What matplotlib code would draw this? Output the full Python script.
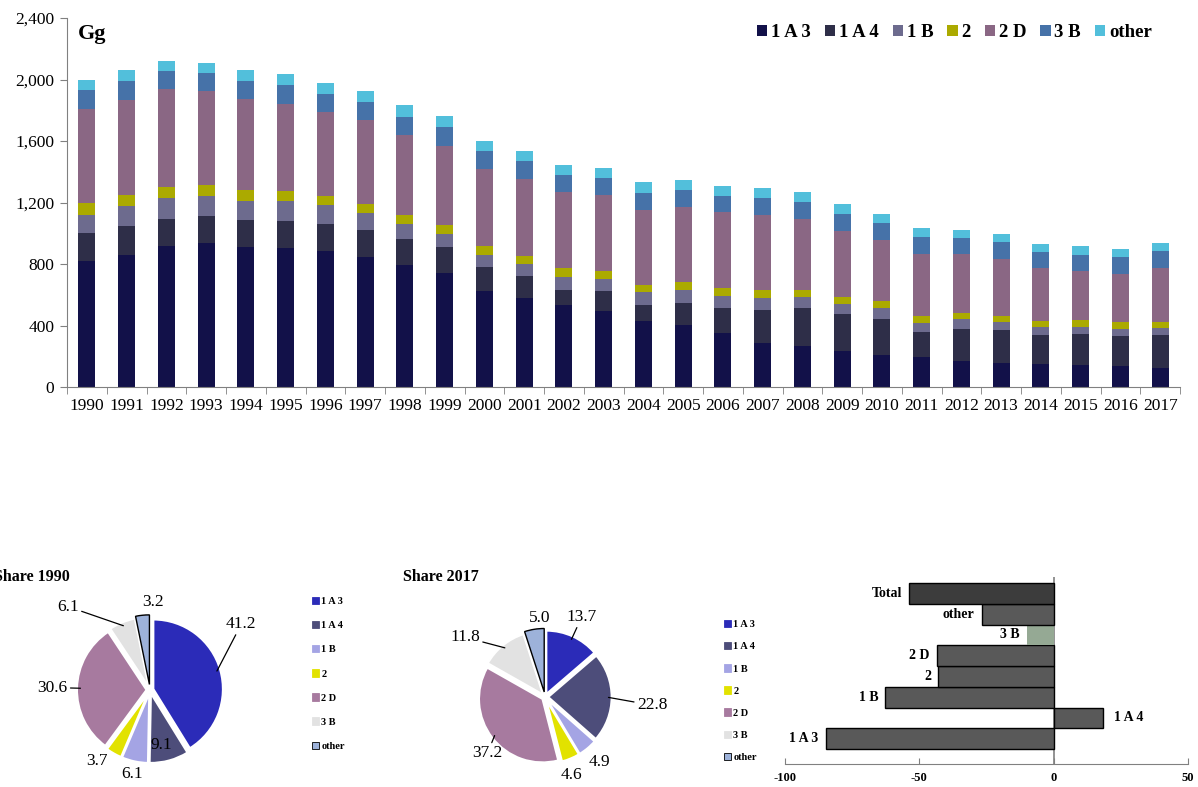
import numpy as np
import matplotlib
matplotlib.use("Agg")
import matplotlib.pyplot as plt
from matplotlib.patches import Patch
from matplotlib.ticker import FuncFormatter, FixedLocator

plt.rcParams["font.family"] = ["Liberation Serif", "DejaVu Serif"]
plt.rcParams["axes.unicode_minus"] = False

# ---------------- data ----------------
years = [str(y) for y in range(1990, 2018)]
sectors = ["1 A 3", "1 A 4", "1 B", "2", "2 D", "3 B", "other"]

s_1a3 = [819, 858, 917, 936, 910, 904, 884, 845, 793, 741, 623, 578, 532, 493,
         428, 402, 350, 285, 265, 232, 206, 193, 167, 154, 148, 141, 135, 122]
s_1a4 = [182, 189, 176, 176, 176, 176, 176, 176, 169, 169, 157, 143, 98, 130,
         104, 143, 163, 215, 248, 242, 235, 163, 209, 215, 189, 202, 195, 215]
s_1b = [118, 130, 136, 130, 124, 130, 124, 111, 98, 85, 78, 78, 85, 79,
        85, 85, 78, 78, 71, 65, 72, 59, 65, 52, 52, 46, 46, 45]
s_2 = [78, 72, 72, 72, 71, 65, 58, 58, 59, 58, 59, 52, 58, 52,
       45, 52, 52, 52, 46, 45, 45, 45, 39, 39, 39, 45, 45, 39]
s_2d = [612, 619, 634, 613, 593, 567, 548, 548, 521, 517, 501, 502, 495, 495,
        489, 489, 495, 489, 463, 430, 398, 404, 384, 372, 345, 320, 313, 352]
s_3b = [124, 124, 122, 117, 118, 124, 117, 117, 117, 122, 118, 117, 111, 111,
        111, 110, 104, 110, 110, 111, 110, 111, 105, 111, 104, 104, 111, 111]
s_other = [65, 71, 65, 65, 71, 71, 72, 72, 78, 72, 65, 66, 65, 65,
           72, 66, 66, 66, 65, 65, 59, 59, 52, 52, 53, 59, 52, 52]

share_1990 = [41.2, 9.1, 6.1, 3.7, 30.6, 6.1, 3.2]
share_2017 = [13.7, 22.8, 4.9, 4.6, 37.2, 11.8, 5.0]

trend_labels = ["1 A 3", "1 A 4", "1 B", "2", "2 D", "3 B", "other", "Total"]
trend_values = [-84.9, 18.2, -62.7, -42.9, -43.6, -10.0, -26.8, -53.8]

# ---------------- styles ----------------
bar_colors = ["#121149", "#2e2e48", "#6d6b8e", "#abaa00", "#8a6784", "#4672a8", "#52bfdb"]
pie_colors = ["#2b2bb8", "#4d4d7a", "#a4a4e4", "#e2e200", "#a77a9f", "#e2e2e2", "#9db2da"]

fig = plt.figure(figsize=(11.98, 7.87), dpi=100)

# ---------------- stacked bars ----------------
ax = fig.add_axes([67 / 1198, 1 - 387 / 787, 1113 / 1198, 369 / 787])
x = np.arange(len(years))
series = [s_1a3, s_1a4, s_1b, s_2, s_2d, s_3b, s_other]
bottom = np.zeros(len(years))
for vals, col, lab in zip(series, bar_colors, sectors):
    ax.bar(x, vals, 0.43, bottom=bottom, color=col, label=lab, zorder=2)
    bottom += np.array(vals)

ax.set_xlim(-0.5, len(years) - 0.5)
ax.set_ylim(0, 2400)
ax.set_yticks(np.arange(0, 2401, 400))
ax.yaxis.set_major_formatter(FuncFormatter(lambda v, p: f"{int(v):,}"))
ax.set_xticks(x)
ax.set_xticklabels(years)
ax.xaxis.set_minor_locator(FixedLocator(np.arange(-0.5, len(years), 1)))
ax.tick_params(axis="x", which="major", length=0, pad=8, labelsize=12.5)
ax.tick_params(axis="x", which="minor", length=5, color="#808080", direction="out")
ax.tick_params(axis="y", length=5, color="#808080", labelsize=12.5, pad=4)
for side in ["top", "right"]:
    ax.spines[side].set_visible(False)
for side in ["left", "bottom"]:
    ax.spines[side].set_color("#808080")
ax.text(0.01, 0.985, "Gg", transform=ax.transAxes, fontsize=16, fontweight="bold",
        va="top", ha="left")

leg = ax.legend(loc="upper right", bbox_to_anchor=(0.99, 1.03), ncol=7, frameon=False,
                handlelength=0.55, handleheight=0.55, handletextpad=0.2, columnspacing=0.75,
                prop={"weight": "bold", "size": 13.5})

# ---------------- pies ----------------
def draw_pie(rect, shares, title, title_x, label_r, label_nudge, leaders, leg_anchor, leg_spacing):
    pax = fig.add_axes(rect)
    explode = [0.05] * (len(shares) - 1) + [0.08]
    wedges, _ = pax.pie(shares, colors=pie_colors, startangle=90, counterclock=False,
                        explode=explode, wedgeprops=dict(edgecolor="white", linewidth=1.5))
    wedges[-1].set_edgecolor("black")
    wedges[-1].set_linewidth(1.0)
    pax.set_xlim(-1.15, 1.15)
    pax.set_ylim(-1.15, 1.15)
    pax.set_aspect("equal")
    pax.axis("off")
    for w, val, r, nd, ld in zip(wedges, shares, label_r, label_nudge, leaders):
        mid = np.deg2rad((w.theta1 + w.theta2) / 2)
        ang = mid + np.deg2rad(nd)
        tx, ty = r * np.cos(ang), r * np.sin(ang)
        if ld:
            pax.annotate(f"{val:.1f}", xy=(w.r * np.cos(mid), w.r * np.sin(mid)), xytext=(tx, ty),
                         ha="center", va="center", fontsize=12.5, annotation_clip=False,
                         arrowprops=dict(arrowstyle="-", color="black", lw=0.9,
                                         shrinkA=0, shrinkB=0))
        else:
            pax.text(tx, ty, f"{val:.1f}", ha="center", va="center", fontsize=12.5)
    fig.text(title_x, 1 - 577 / 787, title, fontsize=11.5, fontweight="bold",
             ha="left", va="center")
    handles = [Patch(facecolor=c, edgecolor=("black" if i == len(pie_colors) - 1 else c), lw=0.6)
               for i, c in enumerate(pie_colors)]
    fig.legend(handles, sectors, loc="upper left", bbox_to_anchor=leg_anchor, frameon=False,
               handlelength=0.7, handleheight=0.7, handletextpad=0.2, labelspacing=leg_spacing,
               borderaxespad=0, borderpad=0, prop={"weight": "bold", "size": 7.5})


draw_pie([70 / 1198, 1 - 770 / 787, 160 / 1198, 160 / 787], share_1990, "Share 1990", -6 / 1198,
         [1.62, 0.8, 1.24, 1.28, 1.4, 1.68, 1.26], [20, -4, 0, -7, 0, 22, -8],
         [True, False, False, False, True, True, False],
         (312 / 1198, 1 - 597 / 787), 1.42)

draw_pie([472 / 1198, 1 - 770 / 787, 146 / 1198, 146 / 787], share_2017, "Share 2017", 403 / 1198,
         [1.39, 1.69, 1.34, 1.30, 1.27, 1.57, 1.25], [0, -4, 0, -4, 7, 14, -5],
         [True, True, False, False, True, True, False],
         (724 / 1198, 1 - 620 / 787), 1.23)

# ---------------- trend bars ----------------
tax = fig.add_axes([785 / 1198, 1 - 764 / 787, 403 / 1198, 187 / 787])
ypos = np.arange(len(trend_labels))
tcolors = ["#595959"] * 5 + ["#95a994", "#595959", "#3c3c3c"]
tedges = ["black"] * 5 + ["none", "black", "black"]
tax.barh(ypos, trend_values, height=1.0, color=tcolors, edgecolor=tedges, linewidth=1.0, zorder=2)
tax.axvline(0, color="#808080", lw=1.2, zorder=1)
tax.set_xlim(-100, 50)
tax.set_ylim(-1.22, 7.79)
tax.set_xticks([-100, -50, 0, 50])
tax.set_yticks([])
for side in ["top", "right", "left"]:
    tax.spines[side].set_visible(False)
tax.spines["bottom"].set_color("#808080")
tax.tick_params(axis="x", direction="in", length=4, color="#808080", pad=6, labelsize=9)
for lbl in tax.get_xticklabels():
    lbl.set_fontweight("bold")
for yy, v, lab in zip(ypos, trend_values, trend_labels):
    off = -5 if v < 0 else 8
    tax.annotate(lab, xy=(v, yy), xytext=(off, 0), textcoords="offset points",
                 ha="right" if v < 0 else "left", va="center", fontsize=10, fontweight="bold")

fig.savefig("out.png", dpi=100)
